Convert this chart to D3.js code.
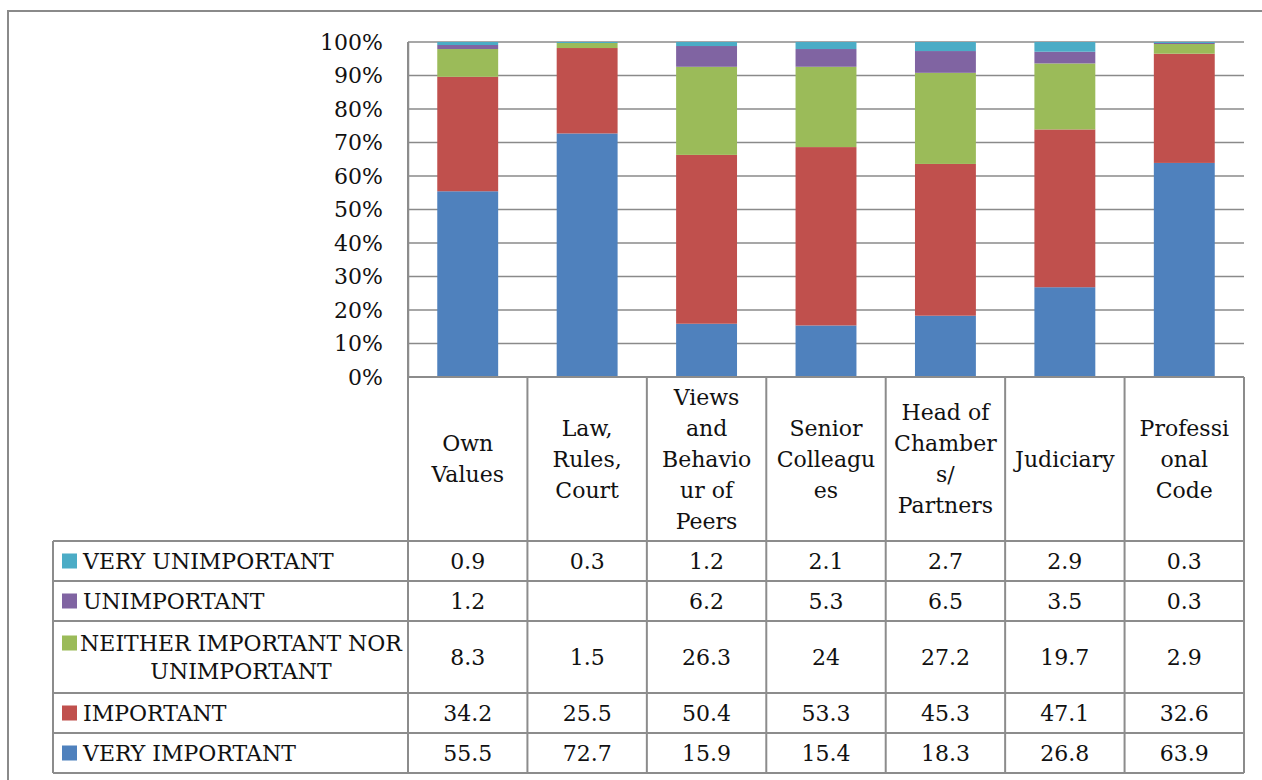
<!DOCTYPE html>
<html><head><meta charset="utf-8">
<script src="https://cdn.jsdelivr.net/npm/d3@7/dist/d3.min.js"></script>
<style>body{margin:0;background:#fff}svg{display:block}text{font-family:"DejaVu Serif",serif;fill:#111}</style>
</head><body>
<script>
const categories = ["Own Values","Law, Rules, Court","Views and Behaviour of Peers","Senior Colleagues","Head of Chambers/ Partners","Judiciary","Professional Code"];
const headerLines = [["Own","Values"],["Law,","Rules,","Court"],["Views","and","Behavio","ur of","Peers"],["Senior","Colleagu","es"],["Head of","Chamber","s/","Partners"],["Judiciary"],["Professi","onal","Code"]];
const seriesNames = ["VERY UNIMPORTANT","UNIMPORTANT","NEITHER IMPORTANT NOR UNIMPORTANT","IMPORTANT","VERY IMPORTANT"];
const legendLines = [["VERY UNIMPORTANT"],["UNIMPORTANT"],["NEITHER IMPORTANT NOR","UNIMPORTANT"],["IMPORTANT"],["VERY IMPORTANT"]];
const veryUnimportant = [0.9,0.3,1.2,2.1,2.7,2.9,0.3];
const unimportant = [1.2,null,6.2,5.3,6.5,3.5,0.3];
const neither = [8.3,1.5,26.3,24,27.2,19.7,2.9];
const important = [34.2,25.5,50.4,53.3,45.3,47.1,32.6];
const veryImportant = [55.5,72.7,15.9,15.4,18.3,26.8,63.9];
const colors = ["#4BACC6","#8064A2","#9BBB59","#C0504D","#4F81BD"];
const yTicks = [0,10,20,30,40,50,60,70,80,90,100];

(function(){
const seriesVals = [veryUnimportant,unimportant,neither,important,veryImportant];
const W=1262,H=780;
const svg=d3.select("body").append("svg").attr("width",W).attr("height",H);
const pLeft=408,pRight=1244,pTop=42,pBottom=377;
const x=d3.scaleBand().domain(categories).range([pLeft,pRight]).paddingInner(0.49).paddingOuter(0.245);
const y=d3.scaleLinear().domain([0,100]).range([pBottom,pTop]);
const gridC="#8a8a8a";

svg.append("path").attr("d",`M8,${H+5}V11H${W+5}`).attr("fill","none").attr("stroke",gridC).attr("stroke-width",2);

svg.append("g").selectAll("line").data(yTicks).join("line")
 .attr("x1",pLeft).attr("x2",pRight).attr("y1",d=>y(d)).attr("y2",d=>y(d))
 .attr("stroke",gridC).attr("stroke-width",1.5);

const yAxis=d3.axisLeft(y).tickValues(yTicks).tickFormat(d=>d+"%").tickSize(0).tickPadding(25);
const ga=svg.append("g").attr("transform",`translate(${pLeft},0)`).call(yAxis);
ga.select(".domain").attr("stroke",gridC).attr("stroke-width",1.5);
ga.selectAll("text").style("font-family","'DejaVu Serif',serif").style("font-size","22px").attr("fill","#111");

const rows=categories.map((c,i)=>{const o={cat:c};seriesNames.forEach((s,k)=>o[s]=seriesVals[k][i]||0);return o;});
const stackKeys=seriesNames.slice().reverse();
const stack=d3.stack().keys(stackKeys).offset(d3.stackOffsetExpand)(rows);
svg.append("g").selectAll("g").data(stack).join("g")
 .attr("fill",d=>colors[seriesNames.indexOf(d.key)])
 .selectAll("rect").data(d=>d).join("rect")
 .attr("x",d=>x(d.data.cat)).attr("width",x.bandwidth())
 .attr("y",d=>y(d[1]*100)).attr("height",d=>y(d[0]*100)-y(d[1]*100));

const colW=(pRight-pLeft)/categories.length;
const rowBounds=[377,541,581,621,693,733,773];
const legLeft=53;
const tc="#8c8c8c";
const tg=svg.append("g").attr("stroke",tc).attr("stroke-width",2).attr("fill","none");
d3.range(categories.length+1).forEach(i=>{
  tg.append("line").attr("x1",pLeft+i*colW).attr("x2",pLeft+i*colW).attr("y1",i===0?pTop:377).attr("y2",773);
});
tg.append("line").attr("x1",legLeft).attr("x2",legLeft).attr("y1",541).attr("y2",773);
rowBounds.forEach((yy,i)=>{
  tg.append("line").attr("x1",i===0?pLeft:legLeft).attr("x2",pRight).attr("y1",yy).attr("y2",yy);
});

const lh=31, hc=(377+541)/2;
categories.forEach((c,i)=>{
  const lines=headerLines[i];
  const cx=pLeft+(i+0.5)*colW;
  lines.forEach((t,j)=>{
    svg.append("text").attr("x",cx).attr("y",hc+(j-(lines.length-1)/2)*lh)
      .attr("dy","0.35em").attr("text-anchor","middle").style("font-size","22px").text(t);
  });
});

seriesNames.forEach((s,k)=>{
  const y0=rowBounds[k+1], y1=rowBounds[k+2], cy=(y0+y1)/2;
  const lines=legendLines[k];
  svg.append("rect").attr("x",62).attr("y",(lines.length>1?cy-14:cy)-7.5).attr("width",15).attr("height",15).attr("fill",colors[k]);
  lines.forEach((t,j)=>{
    const ty=cy+(j-(lines.length-1)/2)*28;
    if(lines.length>1){
      svg.append("text").attr("x",241).attr("y",ty).attr("dy","0.35em").attr("text-anchor","middle").style("font-size","22px").text(t);
    } else {
      svg.append("text").attr("x",83).attr("y",ty).attr("dy","0.35em").style("font-size","22px").text(t);
    }
  });
  seriesVals[k].forEach((v,i)=>{
    if(v==null) return;
    svg.append("text").attr("x",pLeft+(i+0.5)*colW).attr("y",cy).attr("dy","0.35em")
      .attr("text-anchor","middle").style("font-size","22px").text(v);
  });
});
})();
</script>
</body></html>
